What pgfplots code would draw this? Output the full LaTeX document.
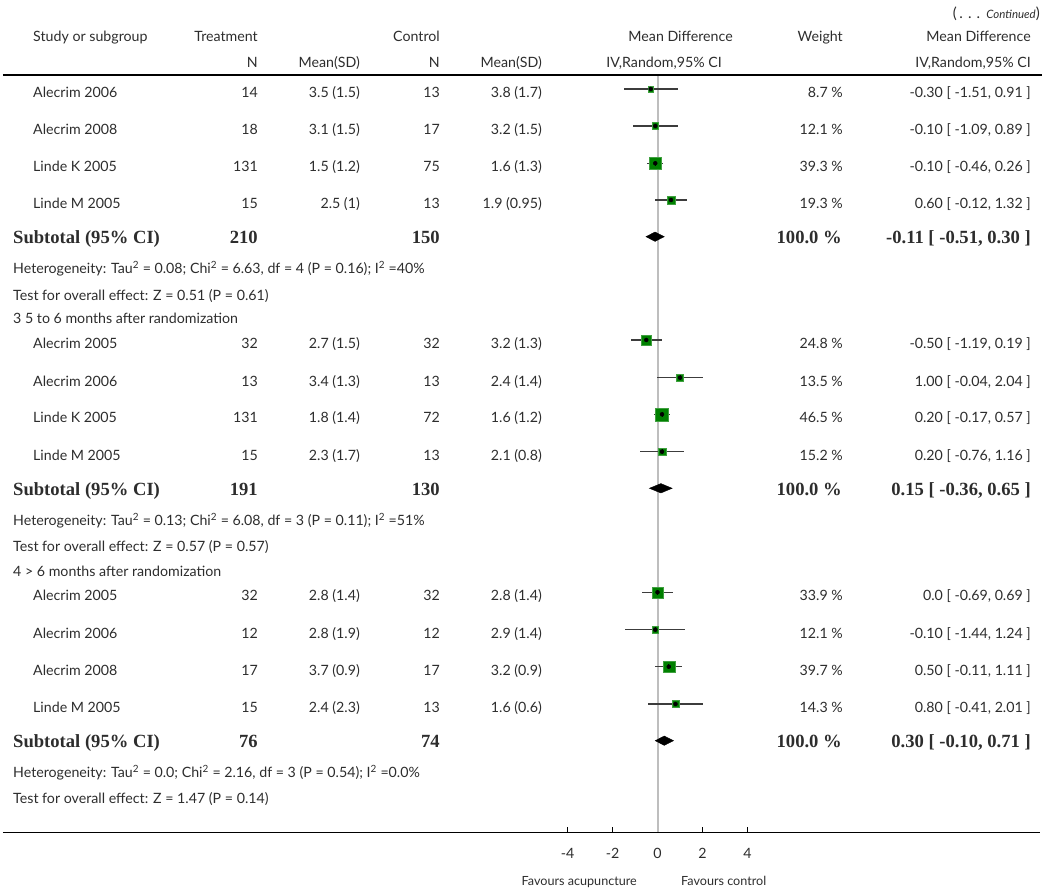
\documentclass[border=0pt]{standalone}
\usepackage{pgfplots}
\pgfplotsset{compat=1.18}
\usepackage{pgfplotstable}
\usepackage{fontspec}
\setmainfont{Lato}
\newfontfamily\bserif{Liberation Serif}
\definecolor{sqgreen}{RGB}{0,128,0}
\definecolor{txt}{RGB}{45,45,45}
\definecolor{ciline}{RGB}{60,60,60}
\definecolor{zeroline}{RGB}{190,190,190}
\newcommand\rf{\fontsize{14.2}{17}\selectfont}
\newcommand\bsf{\bserif\bfseries\fontsize{18.6}{22}\selectfont}

% y = -(pixel row of the centre), md, lower, upper, weight
\pgfplotstableread{
y md lo hi w
-89.0 -0.30 -1.51 0.91 8.7
-126.0 -0.10 -1.09 0.89 12.1
-163.3 -0.10 -0.46 0.26 39.3
-200.0 0.60 -0.12 1.32 19.3
-340.0 -0.50 -1.19 0.19 24.8
-377.7 1.00 -0.04 2.04 13.5
-414.3 0.20 -0.17 0.57 46.5
-451.7 0.20 -0.76 1.16 15.2
-592.3 0.00 -0.69 0.69 33.9
-629.7 -0.10 -1.44 1.24 12.1
-666.7 0.50 -0.11 1.11 39.7
-704.0 0.80 -0.41 2.01 14.3
}\studies

\newcommand\row[8]{%
 \node[anchor=base west] at (33,#1) {#2};
 \node[anchor=base east] at (258,#1) {#3};
 \node[anchor=base east] at (360,#1) {#4};
 \node[anchor=base east] at (440,#1) {#5};
 \node[anchor=base east] at (542,#1) {#6};
 \node[anchor=base east] at (843,#1) {#7};
 \node[anchor=base east] at (1031,#1) {#8};}
\newcommand\sub[5]{%
 \node[anchor=base west,font=\bsf] at (13,#1) {Subtotal (95\% CI)};
 \node[anchor=base east,font=\bsf] at (258,#1) {#2};
 \node[anchor=base east,font=\bsf] at (440,#1) {#3};
 \node[anchor=base east,font=\bsf] at (842,#1) {#4};
 \node[anchor=base east,font=\bsf] at (1031,#1) {#5};}
\newcommand\lft[2]{\node[anchor=base west] at (13,#1) {#2};}

\begin{document}
\begin{tikzpicture}
\begin{axis}[
  at={(0,0)}, anchor=south west,
  scale only axis, width=1037pt, height=832.3pt,
  xmin=-29.0889, xmax=17.0, ymin=-832.3, ymax=0,
  axis x line=bottom, axis y line=none,
  x axis line style={-, line width=1.5pt, black},
  xtick={-4,-2,0,2,4}, tick align=inside, major tick length=5pt,
  xtick style={line width=1.2pt, black},
  xticklabel style={anchor=base, yshift=-26.5pt, font=\rf, text=txt},
  /pgf/number format/assume math mode=true,
  clip=false,
]
\path (axis cs:-29.2222,0) rectangle (axis cs:17.4444,-895);
% top rule
\addplot[black, line width=1.7pt, forget plot] coordinates {(-29.0889,-75) (17.1,-75)};
% line of no effect
\addplot[zeroline, line width=2pt, forget plot] coordinates {(0,-76) (0,-832.3)};
% squares
\addplot[scatter, only marks, mark=square*, point meta=\thisrow{w},
  scatter/use mapped color={draw=sqgreen!75!white, fill=sqgreen},
  visualization depends on={0.95*sqrt(\thisrow{w}) \as \msize},
  scatter/@pre marker code/.append style={/tikz/mark size=\msize pt}]
  table[x=md, y=y]{\studies};
% confidence intervals
\addplot[only marks, mark=none, forget plot,
  error bars/.cd, x dir=both, x explicit, error mark=none,
  error bar style={ciline, line width=1.3pt}]
  table[x=md, y=y, x error minus expr=\thisrow{md}-\thisrow{lo},
        x error plus expr=\thisrow{hi}-\thisrow{md}]{\studies};
% point estimate ticks
\addplot[only marks, mark=|, mark size=2.4pt, mark options={black, line width=0.7pt}]
  table[x=md, y=y]{\studies};
% subtotal diamonds
\addplot[fill=black, draw=black] coordinates {(-0.51,-236.7) (-0.11,-232.0) (0.30,-236.7) (-0.11,-241.4)} -- cycle;
\addplot[fill=black, draw=black] coordinates {(-0.36,-488.3) (0.15,-483.6) (0.65,-488.3) (0.15,-493.0)} -- cycle;
\addplot[fill=black, draw=black] coordinates {(-0.10,-740.7) (0.30,-736.0) (0.71,-740.7) (0.30,-745.4)} -- cycle;
\end{axis}

\begin{scope}[shift={(-3pt,832.3pt)}, x=1pt, y=-1pt,
  every node/.style={inner sep=0pt, text=txt, font=\rf}]
\node[anchor=base east] at (1040,18.5) {{\fontsize{15}{18}\selectfont(\,.\,\,.\,\,.\ \,}{\itshape\fontsize{11.5}{14}\selectfont Continued}{\fontsize{15}{18}\selectfont)}};
% header
\node[anchor=base west] at (33,41.5) {Study or subgroup};
\node[anchor=base east] at (258,41.5) {Treatment};
\node[anchor=base east] at (440,41.5) {Control};
\node[anchor=base east] at (733,41.5) {Mean Difference};
\node[anchor=base east] at (843,41.5) {Weight};
\node[anchor=base east] at (1031,41.5) {Mean Difference};
\node[anchor=base east] at (258,67.5) {N};
\node[anchor=base east] at (360,67.5) {Mean(SD)};
\node[anchor=base east] at (440,67.5) {N};
\node[anchor=base east] at (542,67.5) {Mean(SD)};
\node[anchor=base east] at (722,67.5) {IV,Random,95\% CI};
\node[anchor=base east] at (1031,67.5) {IV,Random,95\% CI};
% group 1
\row{97.5}{Alecrim 2006}{14}{3.5 (1.5)}{13}{3.8 (1.7)}{8.7 \%}{-0.30 [ -1.51, 0.91 ]}
\row{134.5}{Alecrim 2008}{18}{3.1 (1.5)}{17}{3.2 (1.5)}{12.1 \%}{-0.10 [ -1.09, 0.89 ]}
\row{171.8}{Linde K 2005}{131}{1.5 (1.2)}{75}{1.6 (1.3)}{39.3 \%}{-0.10 [ -0.46, 0.26 ]}
\row{208.5}{Linde M 2005}{15}{2.5 (1)}{13}{1.9 (0.95)}{19.3 \%}{0.60 [ -0.12, 1.32 ]}
\sub{244}{210}{150}{100.0 \%}{-0.11 [ -0.51, 0.30 ]}
\lft{273.5}{Heterogeneity: Tau\textsuperscript{2} = 0.08; Chi\textsuperscript{2} = 6.63, df = 4 (P = 0.16); I\textsuperscript{2} =40\%}
\lft{300.5}{Test for overall effect: Z = 0.51 (P = 0.61)}
\lft{323.5}{3 5 to 6 months after randomization}
% group 2
\row{348.5}{Alecrim 2005}{32}{2.7 (1.5)}{32}{3.2 (1.3)}{24.8 \%}{-0.50 [ -1.19, 0.19 ]}
\row{386.2}{Alecrim 2006}{13}{3.4 (1.3)}{13}{2.4 (1.4)}{13.5 \%}{1.00 [ -0.04, 2.04 ]}
\row{422.8}{Linde K 2005}{131}{1.8 (1.4)}{72}{1.6 (1.2)}{46.5 \%}{0.20 [ -0.17, 0.57 ]}
\row{460.2}{Linde M 2005}{15}{2.3 (1.7)}{13}{2.1 (0.8)}{15.2 \%}{0.20 [ -0.76, 1.16 ]}
\sub{495.6}{191}{130}{100.0 \%}{0.15 [ -0.36, 0.65 ]}
\lft{525.5}{Heterogeneity: Tau\textsuperscript{2} = 0.13; Chi\textsuperscript{2} = 6.08, df = 3 (P = 0.11); I\textsuperscript{2} =51\%}
\lft{551.5}{Test for overall effect: Z = 0.57 (P = 0.57)}
\lft{576.5}{4 > 6 months after randomization}
% group 3
\row{600.8}{Alecrim 2005}{32}{2.8 (1.4)}{32}{2.8 (1.4)}{33.9 \%}{0.0 [ -0.69, 0.69 ]}
\row{638.2}{Alecrim 2006}{12}{2.8 (1.9)}{12}{2.9 (1.4)}{12.1 \%}{-0.10 [ -1.44, 1.24 ]}
\row{675.2}{Alecrim 2008}{17}{3.7 (0.9)}{17}{3.2 (0.9)}{39.7 \%}{0.50 [ -0.11, 1.11 ]}
\row{712.5}{Linde M 2005}{15}{2.4 (2.3)}{13}{1.6 (0.6)}{14.3 \%}{0.80 [ -0.41, 2.01 ]}
\sub{748}{76}{74}{100.0 \%}{0.30 [ -0.10, 0.71 ]}
\lft{777.5}{Heterogeneity: Tau\textsuperscript{2} = 0.0; Chi\textsuperscript{2} = 2.16, df = 3 (P = 0.54); I\textsuperscript{2} =0.0\%}
\lft{803.5}{Test for overall effect: Z = 1.47 (P = 0.14)}
% favours
\node[anchor=base east, font=\fontsize{12.6}{15}\selectfont] at (637,885.5) {Favours acupuncture};
\node[anchor=base west, font=\fontsize{12.6}{15}\selectfont] at (681,885.5) {Favours control};
\end{scope}
\end{tikzpicture}
\end{document}
